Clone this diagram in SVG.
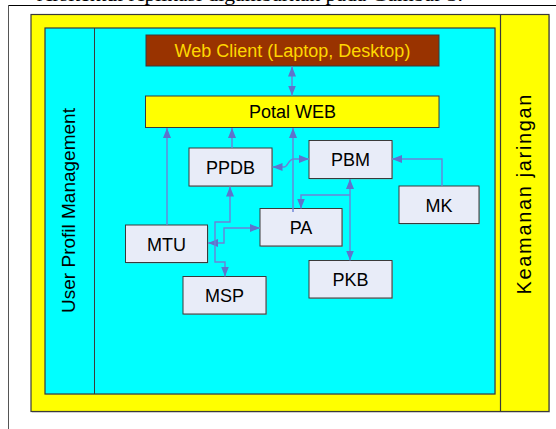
<svg xmlns="http://www.w3.org/2000/svg" width="556" height="429" viewBox="0 0 556 429">
<style>
.frame{fill:none;stroke:#000;stroke-width:1}
.zone{stroke:#3a3a3a;stroke-width:1.2}
.box{fill:#E8ECF8;stroke:#3a3a3a;stroke-width:1}
.shadow{fill:#9a9a9a;opacity:0.6}
.lbl{font-family:"Liberation Sans",Arial,sans-serif;font-size:18px;text-anchor:middle;fill:#000}
.side{font-size:19px}
.conn{fill:none;stroke:#6C82D6;stroke-width:1.4}
</style>
<defs>
<marker id="ah" markerUnits="userSpaceOnUse" markerWidth="10" markerHeight="8" refX="10" refY="4" orient="auto-start-reverse" viewBox="0 0 10 8">
<path d="M0,0 L10,4 L0,8 z" fill="#5E74CC"/>
</marker>
</defs>
<rect width="556" height="429" fill="#fff"/>
<text x="37" y="0.5" textLength="426" lengthAdjust="spacingAndGlyphs" style="font-family:'Liberation Serif','Times New Roman',serif;font-size:18px;fill:#000">Arsitektur Aplikasi digambarkan pada Gambar 3.</text>
<line x1="8" y1="5.5" x2="556" y2="5.5" stroke="#000" stroke-width="1"/>
<line x1="8.5" y1="5" x2="8.5" y2="429" stroke="#555" stroke-width="1"/>

<g id="outer">
<rect x="32" y="15.5" width="518" height="397" class="shadow"/>
<rect x="31" y="14.5" width="518" height="397" fill="#FFFF00" class="zone"/>
<line x1="500.5" y1="14.5" x2="500.5" y2="411.5" stroke="#3a3a3a" stroke-width="1.2"/>
</g>
<g id="keamanan">
<text class="lbl" style="font-size:20px" transform="translate(531,194.5) rotate(-90)" textLength="200" lengthAdjust="spacing">Keamanan jaringan</text>
</g>
<g id="inner">
<rect x="45.5" y="28.5" width="450" height="366" class="shadow"/>
<rect x="45" y="28" width="450" height="366" fill="#00FFFF" class="zone"/>
<line x1="94.5" y1="28" x2="94.5" y2="394" stroke="#3a3a3a" stroke-width="1"/>
</g>
<g id="userprofil">
<text class="lbl side" transform="translate(75,210.5) rotate(-90)">User Profil Management</text>
</g>

<g id="webclient">
<rect x="146" y="35" width="293" height="31" fill="#993300" stroke="#3a3a3a" stroke-width="1"/>
<text class="lbl" x="292.5" y="56.5" style="fill:#FFD700">Web Client (Laptop, Desktop)</text>
</g>
<g id="portal">
<rect x="145.5" y="96" width="293.5" height="31.5" fill="#FFFF00" stroke="#3a3a3a" stroke-width="1"/>
<text class="lbl" x="292.5" y="118">Potal WEB</text>
</g>
<g id="ppdb">
<rect x="190" y="149" width="83" height="38" class="shadow"/>
<rect x="189" y="148" width="83" height="38" class="box"/>
<text class="lbl" x="230.5" y="173.5">PPDB</text>
</g>
<g id="pbm">
<rect x="310" y="141.5" width="83" height="38" class="shadow"/>
<rect x="309" y="140.5" width="83" height="38" class="box"/>
<text class="lbl" x="350.5" y="166">PBM</text>
</g>
<g id="mk">
<rect x="400" y="187" width="80" height="37.5" class="shadow"/>
<rect x="399" y="186" width="80" height="37.5" class="box"/>
<text class="lbl" x="439" y="211.5">MK</text>
</g>
<g id="pa">
<rect x="261" y="209.5" width="82" height="37.5" class="shadow"/>
<rect x="260" y="208.5" width="82" height="37.5" class="box"/>
<text class="lbl" x="301" y="234">PA</text>
</g>
<g id="mtu">
<rect x="126.5" y="226" width="82" height="37.5" class="shadow"/>
<rect x="125.5" y="225" width="82" height="37.5" class="box"/>
<text class="lbl" x="166.5" y="250.5">MTU</text>
</g>
<g id="pkb">
<rect x="310" y="261.5" width="83" height="37.5" class="shadow"/>
<rect x="309" y="260.5" width="83" height="37.5" class="box"/>
<text class="lbl" x="350.5" y="286">PKB</text>
</g>
<g id="msp">
<rect x="184" y="277.5" width="83" height="37.5" class="shadow"/>
<rect x="183" y="276.5" width="83" height="37.5" class="box"/>
<text class="lbl" x="224.5" y="302">MSP</text>
</g>

<g id="connectors">
<path class="conn" d="M292,66.5 V95.5" marker-start="url(#ah)" marker-end="url(#ah)"/>
<path class="conn" d="M167,225 V128" marker-end="url(#ah)"/>
<path class="conn" d="M232,148 V128" marker-end="url(#ah)"/>
<path class="conn" d="M293,212 V128" marker-end="url(#ah)"/>
<path class="conn" d="M272.5,167 H284 C288,167 288,159 294,159 H309" marker-start="url(#ah)" marker-end="url(#ah)"/>
<path class="conn" d="M350,179 V260.5" marker-start="url(#ah)" marker-end="url(#ah)"/>
<path class="conn" d="M350,195 H301 V208.5" marker-end="url(#ah)"/>
<path class="conn" d="M442,186 V159 H392" marker-end="url(#ah)"/>
<path class="conn" d="M208,243 H224 V228 H260" marker-start="url(#ah)" marker-end="url(#ah)"/>
<path class="conn" d="M230,186.5 V222 H215 V262 H225 V276.5" marker-start="url(#ah)" marker-end="url(#ah)"/>
</g>
</svg>
